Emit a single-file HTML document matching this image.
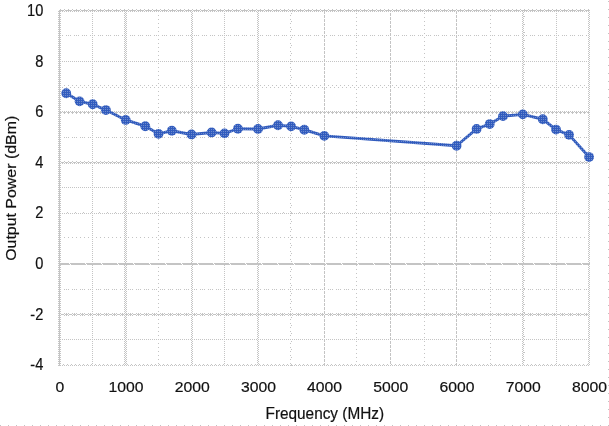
<!DOCTYPE html>
<html><head><meta charset="utf-8"><style>
html,body{margin:0;padding:0;background:#fff;}
svg{display:block;will-change:transform;}
text{font-family:"Liberation Sans",sans-serif;fill:#111;stroke:#111;stroke-width:0.2px;}
</style></head><body>
<svg width="609" height="426" viewBox="0 0 609 426">
<defs>
<pattern id="vp0" patternUnits="userSpaceOnUse" width="609" height="2" fill="#c4c4c4"><rect x="0" y="1" width="609" height="1"/></pattern><pattern id="hp0" patternUnits="userSpaceOnUse" width="2" height="426" fill="#c4c4c4"><rect x="1" y="0" width="1" height="426"/></pattern><pattern id="vp1" patternUnits="userSpaceOnUse" width="609" height="1" fill="#c4c4c4"><rect x="0" y="0" width="609" height="1"/></pattern><pattern id="hp1" patternUnits="userSpaceOnUse" width="1" height="426" fill="#c4c4c4"><rect x="0" y="0" width="1" height="426"/></pattern><pattern id="vp2" patternUnits="userSpaceOnUse" width="609" height="2" fill="#c4c4c4"><rect x="0" y="0" width="609" height="1"/></pattern><pattern id="hp2" patternUnits="userSpaceOnUse" width="2" height="426" fill="#c4c4c4"><rect x="0" y="0" width="1" height="426"/></pattern><pattern id="vp3" patternUnits="userSpaceOnUse" width="609" height="4" fill="#c4c4c4"><rect x="0" y="3" width="609" height="1"/></pattern><pattern id="hp3" patternUnits="userSpaceOnUse" width="4" height="426" fill="#c4c4c4"><rect x="3" y="0" width="1" height="426"/></pattern><pattern id="vp4" patternUnits="userSpaceOnUse" width="609" height="8" fill="#c4c4c4"><rect x="0" y="5" width="609" height="1"/></pattern><pattern id="hp4" patternUnits="userSpaceOnUse" width="8" height="426" fill="#c4c4c4"><rect x="5" y="0" width="1" height="426"/></pattern><pattern id="vp5" patternUnits="userSpaceOnUse" width="609" height="4" fill="#c4c4c4"><rect x="0" y="0" width="609" height="1"/><rect x="0" y="1" width="609" height="1"/><rect x="0" y="3" width="609" height="1"/></pattern><pattern id="hp5" patternUnits="userSpaceOnUse" width="4" height="426" fill="#c4c4c4"><rect x="0" y="0" width="1" height="426"/><rect x="1" y="0" width="1" height="426"/><rect x="3" y="0" width="1" height="426"/></pattern><pattern id="vp6" patternUnits="userSpaceOnUse" width="609" height="4" fill="#c4c4c4"><rect x="0" y="1" width="609" height="1"/></pattern><pattern id="hp6" patternUnits="userSpaceOnUse" width="4" height="426" fill="#c4c4c4"><rect x="1" y="0" width="1" height="426"/></pattern><pattern id="vp7" patternUnits="userSpaceOnUse" width="609" height="4" fill="#c4c4c4"><rect x="0" y="1" width="609" height="1"/><rect x="0" y="2" width="609" height="1"/><rect x="0" y="3" width="609" height="1"/></pattern><pattern id="hp7" patternUnits="userSpaceOnUse" width="4" height="426" fill="#c4c4c4"><rect x="1" y="0" width="1" height="426"/><rect x="2" y="0" width="1" height="426"/><rect x="3" y="0" width="1" height="426"/></pattern><pattern id="vp8" patternUnits="userSpaceOnUse" width="609" height="8" fill="#c4c4c4"><rect x="0" y="0" width="609" height="1"/></pattern><pattern id="hp8" patternUnits="userSpaceOnUse" width="8" height="426" fill="#c4c4c4"><rect x="0" y="0" width="1" height="426"/></pattern><pattern id="vp9" patternUnits="userSpaceOnUse" width="609" height="4" fill="#c4c4c4"><rect x="0" y="0" width="609" height="1"/></pattern><pattern id="hp9" patternUnits="userSpaceOnUse" width="4" height="426" fill="#c4c4c4"><rect x="0" y="0" width="1" height="426"/></pattern><pattern id="vp10" patternUnits="userSpaceOnUse" width="609" height="8" fill="#c4c4c4"><rect x="0" y="1" width="609" height="1"/><rect x="0" y="2" width="609" height="1"/><rect x="0" y="3" width="609" height="1"/><rect x="0" y="4" width="609" height="1"/><rect x="0" y="5" width="609" height="1"/><rect x="0" y="6" width="609" height="1"/><rect x="0" y="7" width="609" height="1"/></pattern><pattern id="hp10" patternUnits="userSpaceOnUse" width="8" height="426" fill="#c4c4c4"><rect x="1" y="0" width="1" height="426"/><rect x="2" y="0" width="1" height="426"/><rect x="3" y="0" width="1" height="426"/><rect x="4" y="0" width="1" height="426"/><rect x="5" y="0" width="1" height="426"/><rect x="6" y="0" width="1" height="426"/><rect x="7" y="0" width="1" height="426"/></pattern><pattern id="vp11" patternUnits="userSpaceOnUse" width="609" height="8" fill="#c4c4c4"><rect x="0" y="2" width="609" height="1"/><rect x="0" y="4" width="609" height="1"/><rect x="0" y="6" width="609" height="1"/></pattern><pattern id="hp11" patternUnits="userSpaceOnUse" width="8" height="426" fill="#c4c4c4"><rect x="2" y="0" width="1" height="426"/><rect x="4" y="0" width="1" height="426"/><rect x="6" y="0" width="1" height="426"/></pattern><pattern id="vp12" patternUnits="userSpaceOnUse" width="609" height="4" fill="#c4c4c4"><rect x="0" y="2" width="609" height="1"/></pattern><pattern id="hp12" patternUnits="userSpaceOnUse" width="4" height="426" fill="#c4c4c4"><rect x="2" y="0" width="1" height="426"/></pattern><pattern id="vp13" patternUnits="userSpaceOnUse" width="609" height="8" fill="#c4c4c4"><rect x="0" y="0" width="609" height="1"/><rect x="0" y="2" width="609" height="1"/><rect x="0" y="4" width="609" height="1"/></pattern><pattern id="hp13" patternUnits="userSpaceOnUse" width="8" height="426" fill="#c4c4c4"><rect x="0" y="0" width="1" height="426"/><rect x="2" y="0" width="1" height="426"/><rect x="4" y="0" width="1" height="426"/></pattern><pattern id="vp14" patternUnits="userSpaceOnUse" width="609" height="8" fill="#c4c4c4"><rect x="0" y="3" width="609" height="1"/></pattern><pattern id="hp14" patternUnits="userSpaceOnUse" width="8" height="426" fill="#c4c4c4"><rect x="3" y="0" width="1" height="426"/></pattern><pattern id="vp15" patternUnits="userSpaceOnUse" width="609" height="16" fill="#c4c4c4"><rect x="0" y="0" width="609" height="1"/><rect x="0" y="1" width="609" height="1"/><rect x="0" y="2" width="609" height="1"/><rect x="0" y="3" width="609" height="1"/><rect x="0" y="4" width="609" height="1"/><rect x="0" y="6" width="609" height="1"/><rect x="0" y="7" width="609" height="1"/><rect x="0" y="8" width="609" height="1"/><rect x="0" y="9" width="609" height="1"/><rect x="0" y="10" width="609" height="1"/><rect x="0" y="11" width="609" height="1"/><rect x="0" y="12" width="609" height="1"/><rect x="0" y="13" width="609" height="1"/><rect x="0" y="14" width="609" height="1"/><rect x="0" y="15" width="609" height="1"/></pattern><pattern id="hp15" patternUnits="userSpaceOnUse" width="16" height="426" fill="#c4c4c4"><rect x="0" y="0" width="1" height="426"/><rect x="1" y="0" width="1" height="426"/><rect x="2" y="0" width="1" height="426"/><rect x="3" y="0" width="1" height="426"/><rect x="4" y="0" width="1" height="426"/><rect x="6" y="0" width="1" height="426"/><rect x="7" y="0" width="1" height="426"/><rect x="8" y="0" width="1" height="426"/><rect x="9" y="0" width="1" height="426"/><rect x="10" y="0" width="1" height="426"/><rect x="11" y="0" width="1" height="426"/><rect x="12" y="0" width="1" height="426"/><rect x="13" y="0" width="1" height="426"/><rect x="14" y="0" width="1" height="426"/><rect x="15" y="0" width="1" height="426"/></pattern><pattern id="vp16" patternUnits="userSpaceOnUse" width="609" height="16" fill="#c4c4c4"><rect x="0" y="0" width="609" height="1"/><rect x="0" y="1" width="609" height="1"/><rect x="0" y="2" width="609" height="1"/><rect x="0" y="3" width="609" height="1"/><rect x="0" y="4" width="609" height="1"/><rect x="0" y="5" width="609" height="1"/><rect x="0" y="7" width="609" height="1"/><rect x="0" y="8" width="609" height="1"/><rect x="0" y="9" width="609" height="1"/><rect x="0" y="10" width="609" height="1"/><rect x="0" y="11" width="609" height="1"/><rect x="0" y="12" width="609" height="1"/><rect x="0" y="13" width="609" height="1"/><rect x="0" y="14" width="609" height="1"/><rect x="0" y="15" width="609" height="1"/></pattern><pattern id="hp16" patternUnits="userSpaceOnUse" width="16" height="426" fill="#c4c4c4"><rect x="0" y="0" width="1" height="426"/><rect x="1" y="0" width="1" height="426"/><rect x="2" y="0" width="1" height="426"/><rect x="3" y="0" width="1" height="426"/><rect x="4" y="0" width="1" height="426"/><rect x="5" y="0" width="1" height="426"/><rect x="7" y="0" width="1" height="426"/><rect x="8" y="0" width="1" height="426"/><rect x="9" y="0" width="1" height="426"/><rect x="10" y="0" width="1" height="426"/><rect x="11" y="0" width="1" height="426"/><rect x="12" y="0" width="1" height="426"/><rect x="13" y="0" width="1" height="426"/><rect x="14" y="0" width="1" height="426"/><rect x="15" y="0" width="1" height="426"/></pattern><pattern id="v8" patternUnits="userSpaceOnUse" width="609" height="8" fill="#c4c4c4"><rect x="0" y="1" width="609" height="1"/></pattern><pattern id="h8" patternUnits="userSpaceOnUse" width="8" height="426" fill="#c4c4c4"><rect x="0" y="0" width="1" height="426"/></pattern>
<pattern id="blu" patternUnits="userSpaceOnUse" width="2" height="2"><rect width="2" height="2" fill="#325cbe"/><rect x="1" y="1" width="1" height="1" fill="#6e8ccd"/></pattern>
</defs>
<g shape-rendering="crispEdges">
<rect x="58" y="10" width="1" height="356" fill="url(#vp0)"/>
<rect x="59" y="10" width="1" height="356" fill="url(#vp1)"/>
<rect x="60" y="10" width="1" height="356" fill="url(#vp0)"/>
<rect x="92" y="10" width="1" height="356" fill="url(#vp0)"/>
<rect x="124" y="10" width="1" height="356" fill="url(#vp0)"/>
<rect x="125" y="10" width="1" height="356" fill="url(#vp2)"/>
<rect x="126" y="10" width="1" height="356" fill="url(#vp0)"/>
<rect x="158" y="10" width="1" height="356" fill="url(#vp3)"/>
<rect x="191" y="10" width="1" height="356" fill="url(#vp2)"/>
<rect x="192" y="10" width="1" height="356" fill="url(#vp0)"/>
<rect x="224" y="10" width="1" height="356" fill="url(#vp0)"/>
<rect x="257" y="10" width="1" height="356" fill="url(#vp2)"/>
<rect x="258" y="10" width="1" height="356" fill="url(#vp0)"/>
<rect x="290" y="10" width="1" height="356" fill="url(#vp3)"/>
<rect x="291" y="10" width="1" height="356" fill="url(#vp4)"/>
<rect x="324" y="10" width="1" height="356" fill="url(#vp5)"/>
<rect x="356" y="10" width="1" height="356" fill="url(#vp6)"/>
<rect x="390" y="10" width="1" height="356" fill="url(#vp7)"/>
<rect x="424" y="10" width="1" height="356" fill="url(#vp6)"/>
<rect x="456" y="10" width="1" height="356" fill="url(#vp5)"/>
<rect x="490" y="10" width="1" height="356" fill="url(#vp3)"/>
<rect x="522" y="10" width="1" height="356" fill="url(#vp0)"/>
<rect x="523" y="10" width="1" height="356" fill="url(#vp2)"/>
<rect x="524" y="10" width="1" height="356" fill="url(#vp8)"/>
<rect x="556" y="10" width="1" height="356" fill="url(#vp0)"/>
<rect x="588" y="10" width="1" height="356" fill="url(#vp0)"/>
<rect x="589" y="10" width="1" height="356" fill="url(#vp2)"/>
<rect x="59" y="9" width="531" height="1" fill="url(#hp9)"/>
<rect x="59" y="10" width="531" height="1" fill="url(#hp10)"/>
<rect x="59" y="11" width="531" height="1" fill="url(#hp2)"/>
<rect x="59" y="35" width="531" height="1" fill="url(#hp11)"/>
<rect x="59" y="61" width="531" height="1" fill="url(#hp2)"/>
<rect x="59" y="85" width="531" height="1" fill="url(#hp9)"/>
<rect x="59" y="87" width="531" height="1" fill="url(#hp12)"/>
<rect x="59" y="111" width="531" height="1" fill="url(#hp2)"/>
<rect x="59" y="112" width="531" height="1" fill="url(#hp5)"/>
<rect x="59" y="113" width="531" height="1" fill="url(#hp9)"/>
<rect x="59" y="137" width="531" height="1" fill="url(#hp13)"/>
<rect x="59" y="161" width="531" height="1" fill="url(#hp9)"/>
<rect x="59" y="162" width="531" height="1" fill="url(#hp7)"/>
<rect x="59" y="163" width="531" height="1" fill="url(#hp2)"/>
<rect x="59" y="187" width="531" height="1" fill="url(#hp2)"/>
<rect x="59" y="212" width="531" height="1" fill="url(#hp14)"/>
<rect x="59" y="213" width="531" height="1" fill="url(#hp2)"/>
<rect x="59" y="237" width="531" height="1" fill="url(#hp9)"/>
<rect x="59" y="263" width="531" height="1" fill="url(#hp15)"/>
<rect x="59" y="264" width="531" height="1" fill="url(#hp16)"/>
<rect x="59" y="289" width="531" height="1" fill="url(#hp13)"/>
<rect x="59" y="313" width="531" height="1" fill="url(#hp13)"/>
<rect x="59" y="314" width="531" height="1" fill="url(#hp7)"/>
<rect x="59" y="315" width="531" height="1" fill="url(#hp13)"/>
<rect x="59" y="339" width="531" height="1" fill="url(#hp2)"/>
<rect x="59" y="364" width="531" height="1" fill="url(#hp3)"/>
<rect x="59" y="365" width="531" height="1" fill="url(#hp2)"/>
<rect x="608" y="0" width="1" height="426" fill="url(#v8)"/>
<rect x="0" y="425" width="609" height="1" fill="url(#h8)"/>
</g>
<polyline points="66.2,93.25 79.6,101.35 92.7,104.25 105.9,110.05 125.7,119.95 145.3,126.25 158.5,133.85 171.8,130.75 191.5,134.45 211.6,132.45 224.5,133.35 237.9,128.75 258.0,128.95 278.0,125.25 291.1,126.35 304.3,129.75 324.3,135.85 456.6,145.75 476.6,128.95 489.7,124.05 503.0,116.15 522.8,114.35 542.8,119.25 556.0,129.55 569.1,134.85 589.1,157.05" fill="none" stroke="url(#blu)" stroke-width="2.9" stroke-linejoin="round"/>
<g fill="url(#blu)">
<circle cx="66.2" cy="93.25" r="4.9"/>
<circle cx="79.6" cy="101.35" r="4.9"/>
<circle cx="92.7" cy="104.25" r="4.9"/>
<circle cx="105.9" cy="110.05" r="4.9"/>
<circle cx="125.7" cy="119.95" r="4.9"/>
<circle cx="145.3" cy="126.25" r="4.9"/>
<circle cx="158.5" cy="133.85" r="4.9"/>
<circle cx="171.8" cy="130.75" r="4.9"/>
<circle cx="191.5" cy="134.45" r="4.9"/>
<circle cx="211.6" cy="132.45" r="4.9"/>
<circle cx="224.5" cy="133.35" r="4.9"/>
<circle cx="237.9" cy="128.75" r="4.9"/>
<circle cx="258.0" cy="128.95" r="4.9"/>
<circle cx="278.0" cy="125.25" r="4.9"/>
<circle cx="291.1" cy="126.35" r="4.9"/>
<circle cx="304.3" cy="129.75" r="4.9"/>
<circle cx="324.3" cy="135.85" r="4.9"/>
<circle cx="456.6" cy="145.75" r="4.9"/>
<circle cx="476.6" cy="128.95" r="4.9"/>
<circle cx="489.7" cy="124.05" r="4.9"/>
<circle cx="503.0" cy="116.15" r="4.9"/>
<circle cx="522.8" cy="114.35" r="4.9"/>
<circle cx="542.8" cy="119.25" r="4.9"/>
<circle cx="556.0" cy="129.55" r="4.9"/>
<circle cx="569.1" cy="134.85" r="4.9"/>
<circle cx="589.1" cy="157.05" r="4.9"/>
</g>
<g font-size="15.9">
<text transform="translate(43.3 15.8) scale(0.92 1)" text-anchor="end">10</text>
<text transform="translate(43.3 66.5) scale(0.92 1)" text-anchor="end">8</text>
<text transform="translate(43.3 117.1) scale(0.92 1)" text-anchor="end">6</text>
<text transform="translate(43.3 167.8) scale(0.92 1)" text-anchor="end">4</text>
<text transform="translate(43.3 218.4) scale(0.92 1)" text-anchor="end">2</text>
<text transform="translate(43.3 269.1) scale(0.92 1)" text-anchor="end">0</text>
<text transform="translate(43.3 319.8) scale(0.92 1)" text-anchor="end">-2</text>
<text transform="translate(43.3 370.4) scale(0.92 1)" text-anchor="end">-4</text>
<text transform="translate(59.8 392.2) scale(1.035 1)" text-anchor="middle" font-size="15.2">0</text>
<text transform="translate(126.0 392.2) scale(1.035 1)" text-anchor="middle" font-size="15.2">1000</text>
<text transform="translate(192.2 392.2) scale(1.035 1)" text-anchor="middle" font-size="15.2">2000</text>
<text transform="translate(258.4 392.2) scale(1.035 1)" text-anchor="middle" font-size="15.2">3000</text>
<text transform="translate(324.6 392.2) scale(1.035 1)" text-anchor="middle" font-size="15.2">4000</text>
<text transform="translate(390.8 392.2) scale(1.035 1)" text-anchor="middle" font-size="15.2">5000</text>
<text transform="translate(457.0 392.2) scale(1.035 1)" text-anchor="middle" font-size="15.2">6000</text>
<text transform="translate(523.2 392.2) scale(1.035 1)" text-anchor="middle" font-size="15.2">7000</text>
<text transform="translate(589.4 392.2) scale(1.035 1)" text-anchor="middle" font-size="15.2">8000</text>

<text transform="translate(324.8 418.5) scale(0.985 1)" text-anchor="middle" font-size="15.6">Frequency (MHz)</text>
<text transform="translate(16.4 188.3) rotate(-90) scale(1.041 1)" text-anchor="middle" font-size="15.3">Output Power (dBm)</text>
</g>
</svg>
</body></html>
